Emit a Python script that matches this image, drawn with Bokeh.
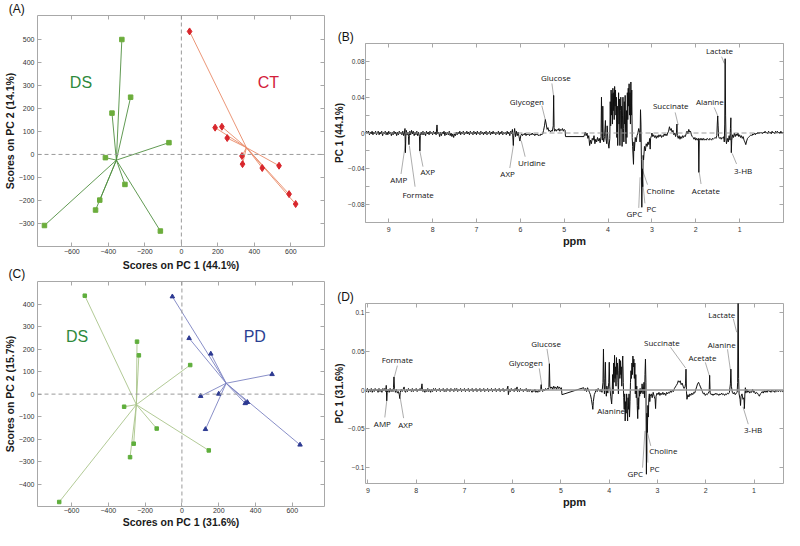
import numpy as np
from bokeh.plotting import figure
from bokeh.layouts import row, column
from bokeh.models import (Range1d, FixedTicker, LinearAxis, Label, Span, Title,
                          ColumnDataSource, CustomJSTickFormatter)
from bokeh.core.properties import value
from bokeh.embed import file_html
from bokeh.resources import INLINE

# ---------------- data: score plots ----------------
DS_A_x = [-326, -278, -380, -68, -416, -309, -447, -470, -750, -115]
DS_A_y = [498, 248, 179, 51, -14, -130, -198, -241, -308, -332]
CT_A_x = [45, 185, 222, 251, 332, 335, 443, 535, 590, 626]
CT_A_y = [533, 116, 120, 71, -7, -42, -59, -49, -172, -215]

DS_C_x = [-528, -244, -234, 45, -314, -137, -262, -282, 146, -667]
DS_C_y = [437, 233, 172, 129, -56, -153, -220, -280, -250, -479]
PD_C_x = [-52, 39, 157, 490, 102, 200, 344, 356, 128, 642]
PD_C_y = [433, 248, 179, 88, -9, 1, -41, -36, -156, -225]

A_xticks = [-600, -400, -200, 0, 200, 400, 600]
A_yticks = [-300, -200, -100, 0, 100, 200, 300, 400, 500]
C_xticks = [-600, -400, -200, 0, 200, 400, 600]
C_yticks = [-400, -300, -200, -100, 0, 100, 200, 300, 400]

# ---------------- data: loadings spectra (ppm, value x 1e-3) ----------------
B_spectrum = [
    (9.53, 0), (9.50, 2), (9.48, -1), (9.46, 2), (9.44, -2), (9.42, 1), (9.40, -1), (9.38, 2), (9.36, -2),
    (9.34, 1), (9.32, -1), (9.30, 2), (9.28, -2), (9.26, 0), (9.24, 2), (9.22, -2), (9.20, 1), (9.18, -1),
    (9.16, 2), (9.14, -3), (9.12, 1), (9.10, -1), (9.08, 2), (9.06, -2), (9.04, 1), (9.02, -2), (9.00, 2),
    (8.98, -1), (8.96, 1), (8.94, -3), (8.92, 1), (8.90, -2), (8.88, 2), (8.86, -1), (8.84, 1), (8.82, -3),
    (8.80, 1), (8.78, -2), (8.76, 2), (8.74, -1), (8.72, 1), (8.70, -2), (8.68, 2), (8.66, -3), (8.64, 1),
    (8.63, 5), (8.62, -22), (8.61, -4), (8.60, 3), (8.58, -2), (8.56, 1), (8.55, -4), (8.54, -13), (8.53, -3),
    (8.52, 2), (8.50, -2), (8.48, 3), (8.46, -1), (8.44, 2), (8.42, -3), (8.40, 1), (8.38, -2), (8.36, 2),
    (8.34, -3), (8.32, 1), (8.30, -4), (8.29, -20), (8.28, -3), (8.26, 1), (8.24, -2), (8.22, 2), (8.20, -2),
    (8.18, 1), (8.16, -3), (8.14, 2), (8.12, -1), (8.10, 1), (8.08, -2), (8.06, 2), (8.04, -1), (8.02, 1),
    (8.00, -2), (7.98, 2), (7.96, -1), (7.94, 1), (7.92, -2), (7.90, 9), (7.89, 2), (7.88, -1), (7.86, 1),
    (7.84, -4), (7.82, 1), (7.80, -3), (7.78, 1), (7.76, -1), (7.74, 2), (7.72, -3), (7.70, 1), (7.68, -2),
    (7.66, 1), (7.64, -2), (7.62, 2), (7.60, -3), (7.58, 0), (7.56, -4), (7.54, -1), (7.52, -5), (7.50, -1),
    (7.48, -3), (7.46, 1), (7.44, -2), (7.42, 1), (7.40, -1), (7.38, 2), (7.36, -2), (7.34, 1), (7.32, -1),
    (7.30, 2), (7.28, -2), (7.26, 1), (7.24, -1), (7.22, 2), (7.20, -1), (7.18, 1), (7.16, -2), (7.14, 2),
    (7.12, -1), (7.10, 1), (7.08, -2), (7.06, 2), (7.04, -1), (7.02, 1), (7.00, -2), (6.98, 2), (6.96, -1),
    (6.94, 1), (6.92, -2), (6.90, 2), (6.88, -1), (6.86, 1), (6.84, -2), (6.82, 1), (6.80, -1), (6.78, 2),
    (6.76, -2), (6.74, 1), (6.72, -1), (6.70, 2), (6.68, -2), (6.66, 1), (6.64, -1), (6.62, 2), (6.60, -1),
    (6.58, 1), (6.56, -2), (6.54, 1), (6.52, -1), (6.50, 2), (6.48, -2), (6.46, 1), (6.44, -1), (6.42, 2),
    (6.40, -2), (6.38, 1), (6.36, -1), (6.34, 1), (6.32, -2), (6.30, 2), (6.28, -1), (6.26, 1), (6.24, -3),
    (6.22, 2), (6.20, -1), (6.18, 4), (6.16, -14), (6.15, -3), (6.13, 5), (6.11, -4), (6.09, 2), (6.07, -3),
    (6.05, 1), (6.03, -4), (6.01, -9), (5.99, -3), (5.97, -1), (5.95, -3), (5.93, -1), (5.91, -2), (5.89, 0),
    (5.87, -3), (5.85, -1), (5.83, -2), (5.81, -1), (5.79, -3), (5.77, -1), (5.75, -2), (5.73, 0), (5.71, -2),
    (5.69, -1), (5.67, -3), (5.65, -1), (5.63, -2), (5.61, -1), (5.59, -3), (5.57, -2), (5.55, -3), (5.53, -1),
    (5.51, -2), (5.49, -1), (5.47, 3), (5.45, 8), (5.43, 15), (5.41, 10), (5.39, 4), (5.37, 6), (5.35, 2),
    (5.33, 3), (5.31, 1), (5.29, 3), (5.27, 2), (5.25, 8), (5.24, 42), (5.23, 6), (5.22, 2), (5.20, 4),
    (5.18, 2), (5.16, 4), (5.14, 3), (5.12, 5), (5.10, 2), (5.08, 4), (5.06, 3), (5.04, 5), (5.02, 2),
    (5.00, 4), (4.98, 3), (4.97, -4), (4.55, -4), (4.54, -2), (4.52, 1), (4.50, -3), (4.48, 0), (4.46, -6),
    (4.44, -3), (4.42, -14), (4.40, -8), (4.38, -12), (4.36, -6), (4.34, -8), (4.32, -3), (4.30, -12),
    (4.28, -7), (4.26, -10), (4.24, -5), (4.22, -9), (4.20, -6), (4.18, -11), (4.16, -4), (4.15, 40),
    (4.14, 5), (4.13, -8), (4.12, 30), (4.11, -5), (4.10, -10), (4.08, -4), (4.06, 14), (4.05, -6),
    (4.03, -12), (4.02, 8), (4.00, -10), (3.98, -17), (3.96, -6), (3.95, 35), (3.94, 8), (3.93, 48),
    (3.92, 20), (3.91, 44), (3.90, 10), (3.89, 50), (3.88, 25), (3.87, 45), (3.86, 15), (3.85, 52),
    (3.84, 30), (3.83, 48), (3.82, 20), (3.81, 40), (3.80, -5), (3.79, 30), (3.78, -14), (3.77, 20),
    (3.76, 45), (3.75, 10), (3.74, 38), (3.73, -14), (3.72, 25), (3.71, 40), (3.70, 5), (3.69, 30),
    (3.68, -15), (3.67, 20), (3.66, 40), (3.65, 5), (3.64, -10), (3.63, 35), (3.62, 10), (3.61, 42),
    (3.60, 0), (3.59, -12), (3.58, 25), (3.57, -5), (3.56, 45), (3.55, 15), (3.54, 50), (3.53, 30),
    (3.52, 55), (3.51, 20), (3.50, 45), (3.49, 10), (3.48, 57), (3.47, 20), (3.46, 48), (3.45, -5),
    (3.44, -15), (3.42, -35), (3.41, -10), (3.40, -20), (3.38, -5), (3.36, -10), (3.34, -3), (3.32, 0),
    (3.30, 5), (3.28, 0), (3.27, -10), (3.26, 26), (3.25, 10), (3.24, -30), (3.23, -83), (3.22, -40),
    (3.21, -60), (3.20, -25), (3.19, -30), (3.17, -15), (3.15, -20), (3.13, -12), (3.11, -15), (3.09, -10),
    (3.07, -13), (3.05, -6), (3.04, -18), (3.03, -6), (3.01, -3), (3.00, 0), (2.98, -4), (2.96, -2),
    (2.94, -5), (2.92, -3), (2.90, -6), (2.88, -3), (2.86, -5), (2.84, -2), (2.82, -4), (2.80, -2),
    (2.78, -5), (2.76, -3), (2.74, -4), (2.72, -1), (2.70, -3), (2.68, -1), (2.66, -3), (2.64, 0), (2.62, 2),
    (2.60, 7), (2.58, 3), (2.56, 5), (2.54, 1), (2.52, 3), (2.50, -2), (2.48, 0), (2.46, -4), (2.44, 1),
    (2.43, 10), (2.42, -3), (2.40, -6), (2.38, -3), (2.36, -7), (2.34, -4), (2.32, -6), (2.30, -3),
    (2.28, -5), (2.26, -3), (2.24, -4), (2.22, -1), (2.20, 2), (2.18, -1), (2.16, 4), (2.14, 1), (2.12, 2),
    (2.10, -2), (2.08, -4), (2.06, -5), (2.04, -7), (2.02, -5), (2.00, -8), (1.98, -6), (1.96, -8),
    (1.94, -6), (1.93, -44), (1.92, -8), (1.90, -6), (1.88, -8), (1.86, -6), (1.84, -8), (1.82, -6),
    (1.80, -8), (1.78, -7), (1.76, -8), (1.74, -6), (1.72, -7), (1.70, -8), (1.68, -6), (1.66, -7),
    (1.64, -8), (1.62, -6), (1.60, -7), (1.58, -6), (1.56, -5), (1.54, -6), (1.52, -3), (1.51, 10),
    (1.50, 19), (1.49, 8), (1.48, -4), (1.46, -6), (1.44, -5), (1.42, -7), (1.40, -5), (1.38, -6),
    (1.36, -4), (1.35, -10), (1.34, 10), (1.33, 83), (1.32, 20), (1.31, -8), (1.30, -12), (1.28, -6),
    (1.26, -10), (1.24, -3), (1.22, -8), (1.21, 5), (1.20, 17), (1.19, -22), (1.18, -8), (1.16, -2),
    (1.14, -5), (1.12, 0), (1.10, -4), (1.08, -1), (1.06, -3), (1.04, 0), (1.02, -4), (1.00, -2), (0.98, -5),
    (0.96, -3), (0.94, -6), (0.92, -4), (0.90, -8), (0.88, -10), (0.86, -13), (0.84, -9), (0.82, -6),
    (0.80, -5), (0.78, -4), (0.76, -3), (0.74, -2), (0.72, -3), (0.70, -1), (0.68, -2), (0.66, 0),
    (0.64, -2), (0.62, 0), (0.60, -1), (0.58, 1), (0.56, -1), (0.54, 1), (0.52, 0), (0.50, 1), (0.48, -1),
    (0.46, 1), (0.44, 0), (0.42, 2), (0.40, 0), (0.38, 1), (0.36, -1), (0.34, 2), (0.32, 0), (0.30, 1),
    (0.28, -1), (0.26, 2), (0.24, 0), (0.22, 1), (0.20, -1), (0.18, 2), (0.16, 0), (0.14, 2), (0.12, 0),
    (0.10, 1), (0.08, -1), (0.06, 2), (0.04, 0), (0.02, 1), (0.00, 0),
]

D_spectrum = [
    (9.05, 0), (9.03, -2), (9.01, 2), (8.99, -3), (8.97, 1), (8.95, -2), (8.93, 2), (8.91, -3), (8.89, 1),
    (8.87, -2), (8.85, 2), (8.83, -1), (8.81, 1), (8.79, -3), (8.77, 2), (8.75, -2), (8.73, 1), (8.71, -3),
    (8.69, 2), (8.67, -1), (8.65, 2), (8.63, -2), (8.62, 6), (8.61, -14), (8.60, -3), (8.58, 1), (8.56, -3),
    (8.54, 2), (8.52, -2), (8.50, 1), (8.48, -2), (8.47, 3), (8.46, 17), (8.45, 2), (8.43, -3), (8.41, 1),
    (8.39, -4), (8.37, -2), (8.35, -6), (8.34, -11), (8.33, -3), (8.31, 1), (8.29, -2), (8.27, 1), (8.25, 4),
    (8.24, -1), (8.22, -3), (8.20, 1), (8.18, -2), (8.16, 2), (8.14, -1), (8.12, 1), (8.10, -2), (8.08, 2),
    (8.06, -2), (8.04, 1), (8.02, -1), (8.00, 2), (7.98, -2), (7.96, 1), (7.94, -1), (7.92, 2), (7.90, -1),
    (7.88, 8), (7.87, 1), (7.86, -2), (7.84, 1), (7.82, -3), (7.80, 1), (7.78, -2), (7.76, 2), (7.74, -2),
    (7.72, 1), (7.70, -3), (7.68, 1), (7.66, -2), (7.64, 2), (7.62, -1), (7.60, 2), (7.58, -2), (7.56, 1),
    (7.54, -1), (7.52, 2), (7.50, -2), (7.48, 1), (7.46, -1), (7.44, 2), (7.42, -2), (7.40, 1), (7.38, -2),
    (7.36, 2), (7.34, -1), (7.32, 1), (7.30, -2), (7.28, 2), (7.26, -1), (7.24, 1), (7.22, -2), (7.20, 2),
    (7.18, -1), (7.16, 2), (7.14, -2), (7.12, 1), (7.10, -1), (7.08, 2), (7.06, -2), (7.04, 1), (7.02, -1),
    (7.00, 2), (6.98, -2), (6.96, 1), (6.94, -1), (6.92, 2), (6.90, -2), (6.88, 1), (6.86, -1), (6.84, 2),
    (6.82, -2), (6.80, 1), (6.78, -1), (6.76, 2), (6.74, -2), (6.72, 1), (6.70, -1), (6.68, 2), (6.66, -2),
    (6.64, 1), (6.62, -1), (6.60, 2), (6.58, -2), (6.56, 1), (6.54, -1), (6.52, 2), (6.50, -2), (6.48, 1),
    (6.46, -1), (6.44, 2), (6.42, -2), (6.40, 1), (6.38, -1), (6.36, 2), (6.34, -2), (6.32, 1), (6.30, -1),
    (6.28, 2), (6.26, -2), (6.24, 1), (6.22, -1), (6.20, 2), (6.18, -2), (6.16, 1), (6.14, -1), (6.12, 1),
    (6.10, 5), (6.09, -6), (6.07, 1), (6.05, -2), (6.03, 2), (6.01, -1), (5.99, 1), (5.97, -2), (5.95, 2),
    (5.93, -1), (5.91, 4), (5.90, -2), (5.88, 1), (5.86, -2), (5.84, 2), (5.82, -1), (5.80, 1), (5.78, -2),
    (5.76, 1), (5.74, -1), (5.72, 2), (5.70, -2), (5.68, 1), (5.66, -2), (5.64, 1), (5.62, -1), (5.60, -3),
    (5.58, 0), (5.56, -2), (5.54, 1), (5.52, -3), (5.50, -1), (5.48, -3), (5.46, 0), (5.44, -2), (5.42, 2),
    (5.41, 7), (5.40, 1), (5.38, -2), (5.36, 1), (5.34, -1), (5.32, 2), (5.30, 0), (5.28, 2), (5.26, 1),
    (5.25, 3), (5.24, 34), (5.23, 5), (5.21, 2), (5.19, 4), (5.17, 1), (5.15, 5), (5.13, 2), (5.11, 4),
    (5.09, 1), (5.07, 5), (5.05, 2), (5.03, 4), (5.01, 1), (4.99, 3), (4.98, -6), (4.53, 3), (4.51, -1),
    (4.49, 2), (4.47, -2), (4.45, 3), (4.43, 0), (4.41, -3), (4.39, -6), (4.37, -12), (4.35, -20),
    (4.34, -25), (4.33, -15), (4.31, -6), (4.29, -3), (4.27, 1), (4.25, -2), (4.23, 2), (4.21, 0), (4.19, -2),
    (4.17, 1), (4.15, -3), (4.13, 10), (4.12, 53), (4.11, 10), (4.10, -5), (4.09, 15), (4.08, 36), (4.07, 0),
    (4.06, -8), (4.05, 5), (4.03, -4), (4.01, 10), (4.00, 36), (3.99, 5), (3.97, -8), (3.95, -18), (3.94, -5),
    (3.93, 20), (3.92, -5), (3.91, 35), (3.90, 10), (3.89, 45), (3.88, 15), (3.87, 30), (3.86, 5),
    (3.85, 42), (3.84, 20), (3.83, 35), (3.82, 10), (3.81, -5), (3.80, 25), (3.79, 40), (3.78, 15),
    (3.77, 38), (3.76, 20), (3.75, 30), (3.74, 5), (3.73, 35), (3.72, 44), (3.71, 10), (3.70, -10),
    (3.69, -25), (3.68, -5), (3.67, -40), (3.66, -15), (3.65, -30), (3.64, -5), (3.63, -20), (3.62, -40),
    (3.61, -10), (3.60, -25), (3.59, -5), (3.58, -35), (3.57, -15), (3.56, 10), (3.55, 25), (3.54, 15),
    (3.53, 35), (3.52, 20), (3.51, 44), (3.50, 30), (3.49, 40), (3.48, 15), (3.47, 35), (3.46, -5),
    (3.45, 20), (3.44, -10), (3.43, 5), (3.42, -20), (3.41, -37), (3.40, -10), (3.39, -25), (3.38, 0),
    (3.37, -8), (3.36, 2), (3.35, -5), (3.34, 0), (3.33, -3), (3.32, 8), (3.30, -5), (3.28, 10), (3.27, -10),
    (3.26, 20), (3.25, 40), (3.24, 10), (3.23, -109), (3.22, -30), (3.21, -55), (3.20, -20), (3.19, -35),
    (3.18, -10), (3.17, -5), (3.16, -15), (3.15, -8), (3.13, -5), (3.11, -10), (3.09, -3), (3.07, -8),
    (3.05, -12), (3.04, -24), (3.03, -8), (3.01, -4), (2.99, -6), (2.97, -3), (2.95, -7), (2.93, -4),
    (2.91, -6), (2.89, -3), (2.87, -6), (2.85, -4), (2.83, -7), (2.81, -3), (2.79, -5), (2.77, -3),
    (2.75, -4), (2.73, -1), (2.71, -3), (2.69, 0), (2.67, -2), (2.65, 2), (2.63, 4), (2.61, 6), (2.59, 8),
    (2.57, 12), (2.55, 10), (2.53, 12), (2.51, 7), (2.49, 9), (2.47, 5), (2.45, 2), (2.43, 4), (2.42, 8),
    (2.41, 27), (2.40, -2), (2.39, -12), (2.37, -6), (2.35, -9), (2.33, -5), (2.31, -7), (2.29, -4),
    (2.27, -6), (2.25, -3), (2.23, -4), (2.21, 0), (2.19, 4), (2.17, 8), (2.15, 10), (2.13, 7), (2.11, 4),
    (2.09, 1), (2.07, -2), (2.05, -5), (2.03, -4), (2.01, -7), (1.99, -5), (1.97, -6), (1.95, -4), (1.93, -2),
    (1.92, 19), (1.91, -4), (1.89, -6), (1.87, -5), (1.85, -7), (1.83, -5), (1.81, -6), (1.79, -4), (1.77, -6),
    (1.75, -5), (1.73, -7), (1.71, -5), (1.69, -6), (1.67, -4), (1.65, -6), (1.63, -5), (1.61, -7), (1.59, -5),
    (1.57, -6), (1.55, -4), (1.53, -5), (1.51, -3), (1.49, 8), (1.48, 27), (1.47, 5), (1.45, -3), (1.43, -5),
    (1.41, -3), (1.39, -6), (1.37, -4), (1.35, -3), (1.34, 10), (1.33, 140), (1.32, 15), (1.31, -5),
    (1.29, -12), (1.28, -20), (1.27, -8), (1.25, -5), (1.23, -12), (1.21, -10), (1.20, -24), (1.19, -5),
    (1.18, 3), (1.17, -4), (1.15, 1), (1.13, -3), (1.11, -1), (1.09, -4), (1.07, -2), (1.05, -3), (1.03, 1),
    (1.01, -3), (0.99, -2), (0.97, -5), (0.95, -3), (0.93, -4), (0.91, -6), (0.89, -8), (0.87, -5),
    (0.85, -4), (0.83, -2), (0.81, -4), (0.79, -1), (0.77, -3), (0.75, -1), (0.73, -3), (0.71, 0),
    (0.69, -2), (0.67, -1), (0.65, -3), (0.63, 0), (0.61, -2), (0.59, -1), (0.57, -3), (0.55, 0),
    (0.53, -2), (0.51, -1), (0.49, -2), (0.47, 0), (0.45, -2), (0.43, -1), (0.41, -2), (0.39, -1), (0.37, 0),
]

B_xticks = [9, 8, 7, 6, 5, 4, 3, 2, 1]
B_yticks = [-0.08, -0.04, 0, 0.04, 0.08]
B_yminor = [-0.1, -0.06, -0.02, 0.02, 0.06, 0.1]
D_xticks = [9, 8, 7, 6, 5, 4, 3, 2, 1]
D_yticks = [-0.1, -0.05, 0, 0.05, 0.1]

# metabolite annotations: label text, label position, leader line start/end
B_labels = ["AMP", "Formate", "AXP", "AXP", "Uridine", "Glycogen", "Glucose", "Succinate",
            "Alanine", "Lactate", "Choline", "PC", "GPC", "Acetate", "3-HB"]
B_label_ppm = [8.77, 8.33, 8.11, 6.29, 5.74, 5.85, 5.19, 2.57, 1.68, 1.46, 2.80, 3.01, 3.40, 1.77, 0.92]
B_label_val = [-0.0525, -0.0682, -0.043, -0.0458, -0.0328, 0.035, 0.062, 0.0305, 0.0353, 0.0926,
               -0.0644, -0.0849, -0.0904, -0.0644, -0.042]
B_lead_x0 = [8.72, 8.40, 8.22, 6.24, 5.89, 5.51, 5.28, 2.47, 1.58, 1.41, 3.10, 3.16, 3.30, 1.88, 1.07]
B_lead_y0 = [-0.0458, -0.060, -0.0376, -0.0391, -0.0265, 0.0305, 0.0554, 0.023, 0.0286, 0.0852,
             -0.0577, -0.0786, -0.0837, -0.057, -0.0346]
B_lead_x1 = [8.62, 8.53, 8.30, 6.16, 5.98, 5.43, 5.24, 2.40, 1.49, 1.35, 3.21, 3.22, 3.27, 1.92, 1.17]
B_lead_y1 = [-0.0123, -0.0142, -0.0179, -0.0142, -0.0086, 0.0145, 0.0405, 0.0089, 0.0181, 0.0777,
             -0.0421, -0.0495, -0.0495, -0.044, -0.0228]

D_labels = ["AMP", "Formate", "AXP", "Glycogen", "Glucose", "Alanine", "Succinate", "Acetate",
            "Alanine", "Lactate", "Choline", "PC", "GPC", "3-HB"]
D_label_ppm = [8.70, 8.39, 8.22, 5.73, 5.31, 3.96, 2.91, 2.07, 1.67, 1.67, 2.88, 3.06, 3.46, 1.02]
D_label_val = [-0.0433, 0.039, -0.0442, 0.035, 0.0605, -0.0269, 0.0618, 0.0424, 0.0588, 0.0978,
               -0.0788, -0.101, -0.108, -0.0516]
D_lead_x0 = [8.65, 8.39, 8.26, 5.45, 5.29, 2.73, 2.01, 1.55, 1.43, 3.14, 3.20, 3.31, 1.12]
D_lead_y0 = [-0.0355, 0.0316, -0.0364, 0.028, 0.0532, 0.0553, 0.0358, 0.0527, 0.0922, -0.0723,
             -0.094, -0.1005, -0.0442]
D_lead_x1 = [8.61, 8.45, 8.33, 5.40, 5.24, 2.42, 1.92, 1.49, 1.36, 3.21, 3.22, 3.26, 1.23]
D_lead_y1 = [-0.0139, 0.0173, -0.0104, 0.0069, 0.0329, 0.0286, 0.0173, 0.026, 0.0748, -0.055,
             -0.057, -0.0529, -0.0217]

# ---------------- styling helpers ----------------
FRAME = "#a8a8a8"
FONT = "Liberation Sans"
MINUS = CustomJSTickFormatter(code="return String(tick).replace('-', '\\u2212');")


def make_fig(w, h, xr, yr, ml, mr, mt, mb):
    p = figure(width=w, height=h, x_range=xr, y_range=yr, output_backend="svg",
               toolbar_location=None, min_border_left=ml, min_border_right=mr,
               min_border_top=mt, min_border_bottom=mb)
    p.grid.visible = False
    p.outline_line_color = FRAME
    p.outline_line_width = 1
    p.background_fill_color = "white"
    p.border_fill_color = "white"
    return p


def style_axes(p, xticks, yticks, xminor, yminor, xfs, yfs, xlabel, ylabel, xlfs, ylfs,
               xstand, ystand, xlstand, ylstand):
    xt = FixedTicker(ticks=xticks, minor_ticks=xminor)
    yt = FixedTicker(ticks=yticks, minor_ticks=yminor)
    ax, ay = p.below[0], p.left[0]
    for a, t, lab, fs, lfs, st, lst in ((ax, xt, xlabel, xfs, xlfs, xstand, xlstand),
                                        (ay, yt, ylabel, yfs, ylfs, ystand, ylstand)):
        a.ticker = t
        a.formatter = MINUS
        a.axis_line_color = None
        a.major_tick_in = 4
        a.major_tick_out = 0
        a.minor_tick_in = 4
        a.minor_tick_out = 0
        a.major_tick_line_color = FRAME
        a.minor_tick_line_color = FRAME
        a.major_label_text_font = FONT
        a.major_label_text_font_size = fs
        a.major_label_text_color = "#333333"
        a.major_label_standoff = st
        a.axis_label = lab
        a.axis_label_text_font = FONT
        a.axis_label_text_font_size = lfs
        a.axis_label_text_font_style = "bold"
        a.axis_label_text_color = "#1a1a1a"
        a.axis_label_standoff = lst
    for loc, t in (("above", xt), ("right", yt)):
        a2 = LinearAxis(ticker=t, formatter=CustomJSTickFormatter(code="return '';"))
        a2.axis_line_color = None
        a2.major_tick_in = 4
        a2.major_tick_out = 0
        a2.minor_tick_in = 4
        a2.minor_tick_out = 0
        a2.major_tick_line_color = FRAME
        a2.minor_tick_line_color = FRAME
        a2.major_label_text_font_size = "0px"
        a2.major_label_standoff = 0
        p.add_layout(a2, loc)


def letter_title(t, text, offset, standoff):
    t.text = text
    t.align = "left"
    t.offset = offset
    t.standoff = standoff
    t.vertical_align = "middle"
    t.text_font = FONT
    t.text_font_size = "12px"
    t.text_font_style = "normal"
    t.text_color = "#111111"


def scores(p, xs, ys, marker, size, mcolor, lcolor):
    cx, cy = float(np.mean(xs)), float(np.mean(ys))
    p.segment(x0=[cx] * len(xs), y0=[cy] * len(ys), x1=xs, y1=ys, line_color=lcolor, line_width=0.9)
    p.scatter(xs, ys, marker=marker, size=size, fill_color=mcolor, line_color=mcolor)


def zero_lines(p):
    p.add_layout(Span(location=0, dimension="width", line_color="#9a9a9a", line_dash="4 3", line_width=1))
    p.add_layout(Span(location=0, dimension="height", line_color="#9a9a9a", line_dash="4 3", line_width=1))


def group_label(p, text, x, y, color):
    p.add_layout(Label(x=x, y=y, text=text, text_font=FONT, text_font_size="16px",
                       text_color=color, text_align="center", text_baseline="middle"))


# ---------------- panel A ----------------
pA = make_fig(330, 281, Range1d(-788, 784), Range1d(-399, 602), 32, 6, 15, 35)
style_axes(pA, A_xticks, A_yticks, [], [], "7px", "7px", "Scores on PC 1 (44.1%)",
           "Scores on PC 2 (14.1%)", "10.5px", "10.5px", 2, 3, 2, 0)
zero_lines(pA)
scores(pA, DS_A_x, DS_A_y, "square", 4.5, "#6cad3c", "#4f8f3f")
scores(pA, CT_A_x, CT_A_y, "diamond", 7, "#d8262c", "#e98a68")
group_label(pA, "DS", -550, 312, "#2e8a3c")
group_label(pA, "CT", 477, 312, "#d3203a")
letter_title(pA.title, "(A)", -28.7, -2.2)
tC = Title()
letter_title(tC, "(C)", -29, -25)
pA.add_layout(tC, "below")

# ---------------- panel C ----------------
pC = make_fig(330, 249, Range1d(-785, 775), Range1d(-499, 500), 33, 5, 0, 22)
style_axes(pC, C_xticks, C_yticks, [], [], "7px", "7px", "Scores on PC 1 (31.6%)",
           "Scores on PC 2 (15.7%)", "10.5px", "10.5px", 1, 3, 0, 0)
zero_lines(pC)
scores(pC, DS_C_x, DS_C_y, "square", 3.5, "#5fae3c", "#a9c48a")
scores(pC, PD_C_x, PD_C_y, "triangle", 4.5, "#2d3a92", "#7c82c2")
group_label(pC, "DS", -570, 257, "#2e8a3c")
group_label(pC, "PD", 396, 257, "#2b3f92")


# ---------------- spectra panels ----------------
def spectrum_panel(p, spec, labels, lppm, lval, x0, y0, x1, y1, dashed):
    ppm = [s[0] for s in spec]
    val = [s[1] / 1000.0 for s in spec]
    if dashed:
        p.add_layout(Span(location=0, dimension="width", line_color="#9a9a9a", line_dash="5 3", line_width=1))
    else:
        p.add_layout(Span(location=0, dimension="width", line_color="#9a9a9a", line_width=1.5))
    p.segment(x0=x0, y0=y0, x1=x1, y1=y1, line_color="#8a8a8a", line_width=0.7)
    p.line(ppm, val, line_color="#111111", line_width=1.0)
    src = ColumnDataSource(dict(x=lppm, y=lval, t=labels))
    p.text(x="x", y="y", text="t", source=src, text_font=value("Open Sans"),
           text_font_size=value("8px"), text_color="#111111", text_align="center",
           text_baseline="middle")


pB = make_fig(454, 285, Range1d(9.53, 0.0), Range1d(-0.1, 0.1), 35, 1, 43, 63)
style_axes(pB, B_xticks, B_yticks, [], B_yminor, "7px", "6.5px", "ppm", "PC 1 (44.1%)",
           "11px", "10px", 4, 1, 0, 0)
spectrum_panel(pB, B_spectrum, B_labels, B_label_ppm, B_label_val,
               B_lead_x0, B_lead_y0, B_lead_x1, B_lead_y1, True)
letter_title(pB.title, "(B)", -27.7, -3.3)

pD = make_fig(454, 245, Range1d(9.05, 0.39), Range1d(-0.121, 0.112), 35, 1, 18, 47)
style_axes(pD, D_xticks, D_yticks, [], [], "7px", "6.5px", "ppm", "PC 1 (31.6%)",
           "11px", "10px", 4, 1, 0, 0)
spectrum_panel(pD, D_spectrum, D_labels, D_label_ppm, D_label_val,
               D_lead_x0, D_lead_y0, D_lead_x1, D_lead_y1, False)
letter_title(pD.title, "(D)", -28.3, -3.2)

layout = row(column(pA, pC), column(pB, pD))
open("out.html", "w").write(file_html(layout, INLINE))
